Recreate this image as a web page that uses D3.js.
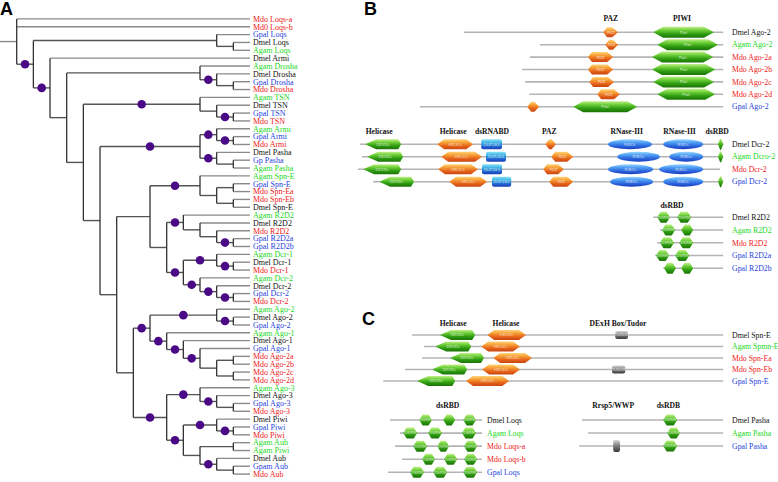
<!DOCTYPE html>
<html><head><meta charset="utf-8">
<script src="https://cdn.jsdelivr.net/npm/d3@7"></script>
<style>body{margin:0;background:#fff}svg{display:block}</style>
</head><body>
<svg id="c" width="778" height="482"></svg>
<script>
// ---------------- DATA ----------------
// Tree (Newick, "*" marks supported clades shown with a dot)
const loqsClade = "(Gpal_Loqs,(Dmel_Loqs,Agam_Loqs))";
const droshaClade = "(Agam_Drosha,(Dmel_Drosha,(Gpal_Drosha,Mdo_Drosha))*)";
const tsnClade = "(Agam_TSN,(Dmel_TSN,(Gpal_TSN,Mdo_TSN)*))*";
const armiPashaClade = "((Agam_Armi,(Gpal_Armi,Mdo_Armi)*)*,(Dmel_Pasha,(Gp_Pasha,Agam_Pasha))*)*";
const spnEClade = "(Agam_Spn-E,((Gpal_Spn-E,Mdo_Spn-Ea),(Mdo_Spn-Eb,Dmel_Spn-E)))*";
const r2d2Clade = "(Agam_R2D2,(Dmel_R2D2,(Mdo_R2D2,(Gpal_R2D2a,Gpal_R2D2b)*)))*";
const dcrClade = "((Agam_Dcr-1,(Dmel_Dcr-1,Mdo_Dcr-1)*)*,(Agam_Dcr-2,(Dmel_Dcr-2,(Gpal_Dcr-2,Mdo_Dcr-2)*)*)*)*";
const agoClade = "((Agam_Ago-2,(Dmel_Ago-2,Gpal_Ago-2)*)*,(Agam_Ago-1,(Dmel_Ago-1,(Gpal_Ago-1,((Mdo_Ago-2a,Mdo_Ago-2b),(Mdo_Ago-2c,Mdo_Ago-2d)))*)*)*)*";
const piwiClade = "((Agam_Ago-3,(Dmel_Ago-3,(Gpal_Ago-3,Mdo_Ago-3))*)*,((Dmel_Piwi,(Gpal_Piwi,Mdo_Piwi)*)*,((Agam_Aub,Agam_Piwi),(Dmel_Aub,(Gpam_Aub,Mdo_Aub))*))*)*";

const n117 = `((${spnEClade},(${r2d2Clade},${dcrClade})),(${agoClade},${piwiClade}))`;
const n100 = `(${armiPashaClade},${n117})`;
const n83 = `(${tsnClade},${n100})`;
const n67 = `(${droshaClade},${n83})`;
const n50 = `(Dmel_Armi,${n67})*`;
const n33 = `(${loqsClade},${n50})*`;
const treeNewick = `(Mdo_Loqs-a,Md0_Loqs-b,${n33});`;

// species colours
const speciesCodes = ["Dm", "Ag", "Md", "Gp"];
const speciesColors = ["#111111", "#22d822", "#f01818", "#1f3fe0"];

// Domain architectures: [name, start, end, [[domain, from, to], ...]]
const ago2Headers = [["PAZ", 677], ["PIWI", 855]];
const ago2Rows = [
  ["Dmel Ago-2", 310, 958, [["PAZ", 658, 695], ["PIWI", 783, 935]]],
  ["Agam Ago-2", 500, 958, [["PAZ", 663, 695], ["PIWI", 793, 945]]],
  ["Mdo Ago-2a", 475, 958, [["PAZ", 620, 683], ["PIWI", 780, 933]]],
  ["Mdo Ago-2b", 455, 958, [["PAZ", 620, 683], ["PIWI", 780, 938]]],
  ["Mdo Ago-2c", 463, 958, [["PAZ", 623, 685], ["PIWI", 783, 935]]],
  ["Mdo Ago-2d", 473, 958, [["PAZ", 643, 700], ["PIWI", 793, 938]]],
  ["Gpal Ago-2", 200, 958, [["PAZ", 468, 498], ["PIWI", 583, 743]]]
];
const dcrHeaders = [["Helicase", 98], ["Helicase", 283], ["dsRNABD", 380], ["PAZ", 523], ["RNase-III", 717], ["RNase-III", 849], ["dsRBD", 943]];
const dcrRows = [
  ["Dmel Dcr-2", 50, 958, [["DEXDc", 63, 153], ["HELICc", 243, 333], ["DUF283", 353, 405], ["PAZ", 513, 540], ["RIBOc", 670, 780], ["RIBOc", 808, 908], ["DSRM", 945, 958]]],
  ["Agam Dcro-2", 55, 958, [["DEXDc", 68, 158], ["HELICc", 253, 355], ["DUF283", 365, 415], ["PAZ", 528, 583], ["RIBOc", 693, 800], ["RIBOc", 823, 908], ["DSRM", 945, 958]]],
  ["Mdo Dcr-2", 45, 950, [["DEXDc", 58, 153], ["HELICc", 245, 345], ["DUF283", 355, 405], ["PAZ", 508, 560], ["RIBOc", 670, 783], ["RIBOc", 798, 908]]],
  ["Gpal Dcr-2", 83, 958, [["DEXDc", 98, 185], ["HELICc", 273, 368], ["DUF283", 380, 428], ["PAZ", 523, 583], ["RIBOc", 675, 783], ["RIBOc", 808, 908], ["DSRM", 945, 958]]]
];
const r2d2Headers = [["dsRBD", 830]];
const r2d2Rows = [
  ["Dmel R2D2", 783, 958, [["DSRM", 793, 825], ["DSRM", 843, 878]]],
  ["Agam R2D2", 800, 958, [["DSRM", 805, 838], ["DSRM", 853, 883]]],
  ["Mdo R2D2", 793, 958, [["DSRM", 800, 835], ["DSRM", 848, 883]]],
  ["Gpal R2D2a", 788, 958, [["DSRM", 790, 823], ["DSRM", 838, 873]]],
  ["Gpal R2D2b", 808, 958, [["DSRM", 810, 840], ["DSRM", 853, 883]]]
];
const spnHeaders = [["Helicase", 283], ["Helicase", 415], ["DExH Box/Tudor", 695]];
const spnRows = [
  ["Dmel Spn-E", 180, 958, [["DEXDc", 250, 338], ["HELICc", 368, 465], ["TUDOR", 688, 720]]],
  ["Agam Spmn-E", 210, 958, [["DEXDc", 238, 328], ["HELICc", 353, 450]]],
  ["Mdo Spn-Ea", 205, 958, [["DEXDc", 275, 360], ["HELICc", 383, 480]]],
  ["Mdo Spn-Eb", 163, 958, [["DEXDc", 230, 318], ["HELICc", 355, 450], ["TUDOR", 680, 713]]],
  ["Gpal Spn-E", 108, 958, [["DEXDc", 193, 288], ["HELICc", 315, 423]]]
];
const loqsHeaders = [["dsRBD", 269]];
const loqsRows = [
  ["Dmel Loqs", 125, 355, [["DSRM", 198, 230], ["DSRM", 258, 288], ["DSRM", 308, 340]]],
  ["Agam Loqs", 150, 355, [["DSRM", 158, 193], ["DSRM", 220, 255], ["DSRM", 305, 340]]],
  ["Mdo Loqs-a", 138, 355, [["DSRM", 183, 218], ["DSRM", 243, 273], ["DSRM", 310, 343]]],
  ["Mdo Loqs-b", 155, 355, [["DSRM", 205, 238], ["DSRM", 260, 293], ["DSRM", 310, 343]]],
  ["Gpal Loqs", 120, 355, [["DSRM", 175, 210], ["DSRM", 233, 268], ["DSRM", 308, 343]]]
];
const pashaHeaders = [["Rrsp5/WWP", 683], ["dsRDB", 821]];
const pashaRows = [
  ["Dmel Pasha", 605, 958, [["DSRM", 808, 843]]],
  ["Agam Pasha", 620, 958, [["DSRM", 818, 850]]],
  ["Gpal Pasha", 598, 958, [["WW", 683, 700], ["DSRM", 808, 843]]]
];

// ---------------- DRAWING ----------------
const svg = d3.select("#c");
const defs = svg.append("defs");
function grad(id, stops) {
  const g = defs.append("linearGradient").attr("id", id)
    .attr("x1", 0).attr("y1", 0).attr("x2", 0).attr("y2", 1);
  stops.forEach(([o, c]) => g.append("stop").attr("offset", o).attr("stop-color", c));
}
grad("gGreen", [[0, "#c2f08a"], [0.3, "#6fd03a"], [0.65, "#2f9d12"], [1, "#1a7206"]]);
grad("gOrange", [[0, "#ffd47a"], [0.3, "#f7a43a"], [0.65, "#e8681c"], [1, "#c84410"]]);
grad("gBlueE", [[0, "#9ad6ff"], [0.35, "#4a9af2"], [0.7, "#2a62dc"], [1, "#1a3ebc"]]);
grad("gBlueR", [[0, "#86e4f4"], [0.4, "#35a8e2"], [0.75, "#2262d0"], [1, "#1a3eb4"]]);
grad("gGrey", [[0, "#d8d8d8"], [0.4, "#8a8a8a"], [1, "#3a3a3a"]]);

const colorOf = d3.scaleOrdinal(speciesCodes, speciesColors);
const spColor = name => colorOf(name.slice(0, 2));

// --- Newick parser
function parseNewick(s) {
  let i = 0;
  function node() {
    const n = {};
    if (s[i] === "(") {
      i++;
      n.children = [];
      do { n.children.push(node()); } while (s[i++] === ",");
    }
    let name = "";
    while (i < s.length && !",();".includes(s[i])) name += s[i++];
    n.name = name.replace(/_/g, " ");
    return n;
  }
  return node();
}

// --- Panel A: tree
const hroot = d3.hierarchy(parseNewick(treeNewick));
d3.cluster().size([1, 1]).separation(() => 1)(hroot);
hroot.x = (hroot.children[0].x + hroot.children[hroot.children.length - 1].x) / 2;
const tY = d3.scaleLinear().domain([0, 1]).range([15, 478]);
const tX = d3.scaleLinear().domain([0, 1]).range([16.7, 250]);
const gT = svg.append("g");

gT.append("line").attr("x1", 0).attr("x2", tX(hroot.y))
  .attr("y1", tY(hroot.x)).attr("y2", tY(hroot.x))
  .attr("stroke", "#8a8a8a").attr("stroke-width", 1.4);
gT.selectAll(".h").data(hroot.descendants().filter(d => d.parent)).join("line")
  .attr("x1", d => tX(d.parent.y)).attr("x2", d => tX(d.y))
  .attr("y1", d => tY(d.x)).attr("y2", d => tY(d.x))
  .attr("stroke", d => d.children ? "#555" : "#8a8a8a").attr("stroke-width", 1.4);
gT.selectAll(".v").data(hroot.descendants().filter(d => d.children)).join("line")
  .attr("x1", d => tX(d.y)).attr("x2", d => tX(d.y))
  .attr("y1", d => tY(d.children[0].x)).attr("y2", d => tY(d.children[d.children.length - 1].x))
  .attr("stroke", "#333").attr("stroke-width", 1.3);
gT.selectAll(".dot").data(hroot.descendants().filter(d => d.children && d.parent && d.data.name === "*")).join("circle")
  .attr("cx", d => (tX(d.parent.y) + tX(d.y)) / 2).attr("cy", d => tY(d.x))
  .attr("r", 4.3).attr("fill", "#4a0a86");
gT.selectAll(".lab").data(hroot.leaves()).join("text")
  .attr("x", d => tX(d.y) + 3).attr("y", d => tY(d.x)).attr("dy", "0.35em")
  .attr("font-family", "Liberation Serif, Times New Roman, serif").attr("font-size", 8)
  .attr("fill", d => spColor(d.data.name)).text(d => d.data.name);

// --- Panels B, C: domain architectures
const xDom = d3.scaleLinear().domain([0, 1000]).range([340, 740]);
const domStyle = {
  PIWI:   { shape: "hex", fill: "gGreen", h: 11, tl: 10, tr: 10, t: "Piwi" },
  PAZ:    { shape: "hex", fill: "gOrange", h: 10, tl: 4, tr: 6, t: "PAZ" },
  DEXDc:  { shape: "hex", fill: "gGreen", h: 10, tl: 11, tr: 3, t: "DEXDc" },
  HELICc: { shape: "hex", fill: "gOrange", h: 10, tl: 7, tr: 7, t: "HELICc" },
  DUF283: { shape: "rect", fill: "gBlueR", h: 10, t: "DUF283" },
  RIBOc:  { shape: "ellipse", fill: "gBlueE", h: 10, t: "RIBOc" },
  DSRM:   { shape: "hex", fill: "gGreen", h: 11, tl: 3.5, tr: 3.5, t: "DSRM" },
  TUDOR:  { shape: "rect", fill: "gGrey", h: 8, t: "TUDOR" },
  WW:     { shape: "rect", fill: "gGrey", h: 12, t: "WW" }
};
function hexPath(x0, x1, yc, h, tl, tr) {
  const w = x1 - x0;
  tl = Math.min(tl, w / 2.5); tr = Math.min(tr, w / 2.5);
  return `M${x0},${yc}L${x0 + tl},${yc - h / 2}L${x1 - tr},${yc - h / 2}L${x1},${yc}L${x1 - tr},${yc + h / 2}L${x0 + tl},${yc + h / 2}Z`;
}
function drawSection(rows, headers, yRange, headerY, labelX) {
  const g = svg.append("g");
  const yS = d3.scalePoint().domain(rows.map(r => r[0])).range(yRange);
  g.selectAll(".hd").data(headers).join("text")
    .attr("x", d => xDom(d[1])).attr("y", headerY).attr("text-anchor", "middle")
    .attr("font-family", "Liberation Serif, Times New Roman, serif").attr("font-weight", "bold")
    .attr("font-size", 7.6).attr("fill", "#111").text(d => d[0]);
  rows.forEach(r => {
    const y = yS(r[0]);
    g.append("line").attr("x1", xDom(r[1])).attr("x2", xDom(r[2])).attr("y1", y).attr("y2", y)
      .attr("stroke", "#b4b4b4").attr("stroke-width", 1.6);
    r[3].forEach(([dn, a, b]) => {
      const st = domStyle[dn];
      const x0 = xDom(a), x1 = xDom(b);
      if (st.shape === "hex") {
        g.append("path").attr("d", hexPath(x0, x1, y, st.h, st.tl, st.tr)).attr("fill", `url(#${st.fill})`);
      } else if (st.shape === "ellipse") {
        g.append("ellipse").attr("cx", (x0 + x1) / 2).attr("cy", y).attr("rx", (x1 - x0) / 2).attr("ry", st.h / 2)
          .attr("fill", `url(#${st.fill})`);
      } else {
        g.append("rect").attr("x", x0).attr("y", y - st.h / 2).attr("width", x1 - x0).attr("height", st.h)
          .attr("rx", 2).attr("fill", `url(#${st.fill})`);
      }
      if (x1 - x0 > 12) {
        g.append("text").attr("x", (x0 + x1) / 2).attr("y", y).attr("dy", "0.35em").attr("text-anchor", "middle")
          .attr("font-family", "DejaVu Sans, sans-serif").attr("font-size", 4).attr("fill", "#fff")
          .attr("fill-opacity", 0.7).text(st.t);
      }
    });
    g.append("text").attr("x", labelX).attr("y", y).attr("dy", "0.35em")
      .attr("font-family", "Liberation Serif, Times New Roman, serif").attr("font-size", 7.8)
      .attr("fill", spColor(r[0])).text(r[0]);
  });
}
drawSection(ago2Rows, ago2Headers, [32.3, 106.7], 20.8, 732);
drawSection(dcrRows, dcrHeaders, [144.3, 181.7], 134.4, 732);
drawSection(r2d2Rows, r2d2Headers, [217.3, 268.3], 207.7, 732);
drawSection(spnRows, spnHeaders, [335, 381], 325.7, 732);
drawSection(loqsRows, loqsHeaders, [420, 472.3], 407.7, 487);
drawSection(pashaRows, pashaHeaders, [420, 446], 407.7, 732);

// panel letters
[["A", 0, 15], ["B", 364, 15], ["C", 362, 325]].forEach(([t, x, y]) => {
  svg.append("text").attr("x", x).attr("y", y).attr("font-family", "Liberation Sans, Arial, sans-serif")
    .attr("font-weight", "bold").attr("font-size", 18).attr("fill", "#000").text(t);
});
</script>
</body></html>
